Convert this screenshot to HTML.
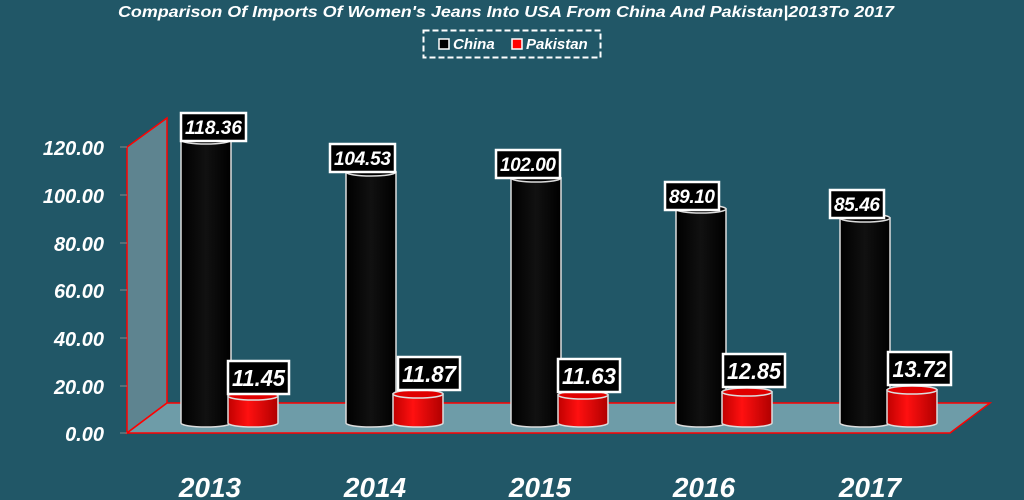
<!DOCTYPE html>
<html><head><meta charset="utf-8"><style>
html,body{margin:0;padding:0;background:#215767;}
svg{display:block;}
text{font-family:"Liberation Sans",sans-serif;font-weight:bold;font-style:italic;fill:#fff;}
</style></head><body>
<svg width="1024" height="500" viewBox="0 0 1024 500" xmlns="http://www.w3.org/2000/svg">
<defs>
<linearGradient id="gb" x1="0" x2="1" y1="0" y2="0">
<stop offset="0" stop-color="#000"/><stop offset="0.5" stop-color="#111"/><stop offset="1" stop-color="#000"/></linearGradient>
<linearGradient id="gr" x1="0" x2="1" y1="0" y2="0">
<stop offset="0" stop-color="#c00000"/><stop offset="0.4" stop-color="#ff1010"/><stop offset="1" stop-color="#b00000"/></linearGradient>
</defs>
<rect width="1024" height="500" fill="#215767"/>
<text x="118" y="17" font-size="16" textLength="776" lengthAdjust="spacingAndGlyphs">Comparison Of Imports Of Women's Jeans Into USA From China And Pakistan|2013To 2017</text>
<rect x="423.5" y="30.5" width="177" height="27" fill="none" stroke="#fff" stroke-width="2" stroke-dasharray="6,3"/>
<rect x="439" y="39" width="10" height="10" fill="#000" stroke="#fff" stroke-width="1.5"/>
<text x="453" y="49" font-size="15">China</text>
<rect x="512" y="39" width="10" height="10" fill="#f00" stroke="#fff" stroke-width="1.5"/>
<text x="526" y="49" font-size="15">Pakistan</text>
<polygon points="127,433 127,147 167,118 167,403" fill="#5e8490" stroke="#f00" stroke-width="1.5"/>
<polygon points="127,433 167,403 990,403 950,433" fill="#6e9ca8" stroke="#f00" stroke-width="1.5"/>
<g stroke="#888" stroke-width="1">
<line x1="120" y1="147" x2="127" y2="147"/><line x1="120" y1="195" x2="127" y2="195"/><line x1="120" y1="243" x2="127" y2="243"/><line x1="120" y1="290" x2="127" y2="290"/><line x1="120" y1="338" x2="127" y2="338"/><line x1="120" y1="386" x2="127" y2="386"/><line x1="120" y1="433" x2="127" y2="433"/>
</g>
<g font-size="20" text-anchor="end">
<text x="104" y="155">120.00</text><text x="104" y="203">100.00</text><text x="104" y="251">80.00</text><text x="104" y="298">60.00</text><text x="104" y="346">40.00</text><text x="104" y="394">20.00</text><text x="104" y="441">0.00</text>
</g>
<g font-size="28" text-anchor="middle">
<text x="210" y="497">2013</text><text x="375" y="497">2014</text><text x="540" y="497">2015</text><text x="704" y="497">2016</text><text x="870" y="497">2017</text>
</g>
<g stroke="#ddd" stroke-width="1.5">
<path d="M181,140 L181,423 A25,4 0 0 0 231,423 L231,140 Z" fill="url(#gb)"/><ellipse cx="206" cy="140" rx="25" ry="4" fill="#000"/>
<path d="M346,172 L346,423 A25,4 0 0 0 396,423 L396,172 Z" fill="url(#gb)"/><ellipse cx="371" cy="172" rx="25" ry="4" fill="#000"/>
<path d="M511,178 L511,423 A25,4 0 0 0 561,423 L561,178 Z" fill="url(#gb)"/><ellipse cx="536" cy="178" rx="25" ry="4" fill="#000"/>
<path d="M676,209 L676,423 A25,4 0 0 0 726,423 L726,209 Z" fill="url(#gb)"/><ellipse cx="701" cy="209" rx="25" ry="4" fill="#000"/>
<path d="M840,218 L840,423 A25,4 0 0 0 890,423 L890,218 Z" fill="url(#gb)"/><ellipse cx="865" cy="218" rx="25" ry="4" fill="#000"/>
<path d="M228,396 L228,423 A25,4 0 0 0 278,423 L278,396 Z" fill="url(#gr)"/><ellipse cx="253" cy="396" rx="25" ry="4" fill="#e00000"/>
<path d="M393,394 L393,423 A25,4 0 0 0 443,423 L443,394 Z" fill="url(#gr)"/><ellipse cx="418" cy="394" rx="25" ry="4" fill="#e00000"/>
<path d="M558,395 L558,423 A25,4 0 0 0 608,423 L608,395 Z" fill="url(#gr)"/><ellipse cx="583" cy="395" rx="25" ry="4" fill="#e00000"/>
<path d="M722,392 L722,423 A25,4 0 0 0 772,423 L772,392 Z" fill="url(#gr)"/><ellipse cx="747" cy="392" rx="25" ry="4" fill="#e00000"/>
<path d="M887,390 L887,423 A25,4 0 0 0 937,423 L937,390 Z" fill="url(#gr)"/><ellipse cx="912" cy="390" rx="25" ry="4" fill="#e00000"/>
</g>
<g stroke="#fff" stroke-width="2.5" fill="#000">
<rect x="181" y="113" width="65" height="28"/>
<rect x="330" y="144" width="65" height="28"/>
<rect x="496" y="150" width="64" height="28"/>
<rect x="665" y="182" width="54" height="28"/>
<rect x="830" y="190" width="54" height="28"/>
<rect x="228" y="361" width="61" height="33"/>
<rect x="398" y="357" width="62" height="33"/>
<rect x="558" y="359" width="62" height="33"/>
<rect x="723" y="354" width="62" height="33"/>
<rect x="888" y="352" width="63" height="33"/>
</g>
<g font-size="19" text-anchor="middle" lengthAdjust="spacingAndGlyphs">
<text x="213.5" y="134" textLength="57">118.36</text>
<text x="362.5" y="165" textLength="57">104.53</text>
<text x="528" y="171" textLength="56">102.00</text>
<text x="692" y="203" textLength="46">89.10</text>
<text x="857" y="211" textLength="46">85.46</text>
</g>
<g font-size="23" text-anchor="middle">
<text x="258.5" y="386" textLength="53" lengthAdjust="spacingAndGlyphs">11.45</text>
<text x="429" y="382" textLength="54" lengthAdjust="spacingAndGlyphs">11.87</text>
<text x="589" y="384" textLength="54" lengthAdjust="spacingAndGlyphs">11.63</text>
<text x="754" y="379" textLength="54" lengthAdjust="spacingAndGlyphs">12.85</text>
<text x="919.5" y="377" textLength="54" lengthAdjust="spacingAndGlyphs">13.72</text>
</g>
</svg>
</body></html>
